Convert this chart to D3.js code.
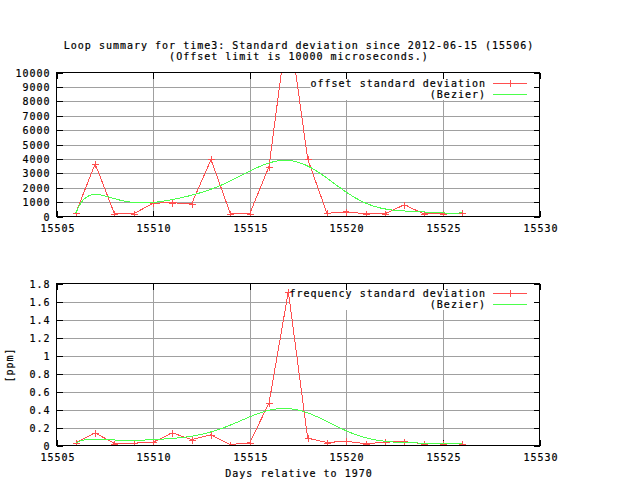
<!DOCTYPE html>
<html>
<head>
<meta charset="utf-8">
<script src="https://cdn.jsdelivr.net/npm/d3@7"></script>
<style>
  html, body { margin: 0; padding: 0; background: #fff; }
  svg text { font-family: "DejaVu Sans Mono", "Liberation Mono", monospace; font-size: 10px; letter-spacing: 1px; fill: #000; stroke: #000; stroke-width: 0.2px; }
</style>
</head>
<body>
<svg id="chart" width="640" height="480"></svg>
<script>
// ---------------- data ----------------
const days = [15506, 15507, 15508, 15509, 15510, 15511, 15512, 15513, 15514, 15515, 15516,
              15517, 15518, 15519, 15520, 15521, 15522, 15523, 15524, 15525, 15526];
const offsetStd = [250, 3660, 190, 190, 930, 950, 900, 3960, 190, 190, 3470,
                   13700, 4000, 220, 330, 190, 190, 810, 190, 190, 250];
const freqStd = [0.03, 0.14, 0.022, 0.026, 0.037, 0.14, 0.066, 0.118, 0.011, 0.03, 0.472,
                 1.71, 0.081, 0.033, 0.048, 0.019, 0.037, 0.044, 0.019, 0.02, 0.019];
const xTicks = [15505, 15510, 15515, 15520, 15525, 15530];
const offsetTicks = [0, 1000, 2000, 3000, 4000, 5000, 6000, 7000, 8000, 9000, 10000];
const freqTicks = [0, 0.2, 0.4, 0.6, 0.8, 1, 1.2, 1.4, 1.6, 1.8];
const titleLines = ["Loop summary for time3: Standard deviation since 2012-06-15 (15506)",
                    "(Offset limit is 10000 microseconds.)"];
const offsetLabel = "offset standard deviation";
const freqLabel = "frequency standard deviation";
const bezierLabel = "(Bezier)";
const xLabel = "Days relative to 1970";
const freqYLabel = "[ppm]";

// ---------------- styles ----------------
const RED = "#ff4f4f", GREEN = "#4cff4c", GRID = "#a0a0a0";

const svg = d3.select("#chart");

// gnuplot-style Bezier smoothing (all points as control points)
function bezier(pts, n) {
  const out = [];
  for (let i = 0; i < n; i++) {
    const t = i / (n - 1);
    let p = pts.map(d => [d[0], d[1]]);
    for (let k = p.length - 1; k > 0; k--) {
      for (let j = 0; j < k; j++) {
        p[j][0] = p[j][0] * (1 - t) + p[j + 1][0] * t;
        p[j][1] = p[j][1] * (1 - t) + p[j + 1][1] * t;
      }
    }
    out.push(p[0]);
  }
  return out;
}

const x = d3.scaleLinear().domain([15505, 15530]).range([56.5, 539.5]);

function panel(opts) {
  const { id, y, yTicks, fmt, values, label, legendBox, legendY } = opts;
  const g = svg.append("g");
  const [yb, yt] = y.range();
  const [xl, xr] = x.range();

  // grid
  g.selectAll(".gy").data(yTicks.slice(1, -1)).join("line")
    .attr("x1", xl).attr("x2", xr)
    .attr("y1", d => Math.round(y(d)) + 0.5).attr("y2", d => Math.round(y(d)) + 0.5)
    .attr("stroke", GRID).attr("shape-rendering", "crispEdges");
  g.selectAll(".gx").data(xTicks.slice(1, -1)).join("line")
    .attr("x1", d => Math.round(x(d)) + 0.5).attr("x2", d => Math.round(x(d)) + 0.5)
    .attr("y1", yt).attr("y2", yb)
    .attr("stroke", GRID).attr("shape-rendering", "crispEdges");

  // legend background (opaque key area)
  g.append("rect")
    .attr("x", legendBox[0]).attr("y", yt)
    .attr("width", xr - legendBox[0]).attr("height", legendBox[1] - yt)
    .attr("fill", "#fff");

  // ticks (inward, mirrored)
  const tl = 6;
  yTicks.forEach(d => {
    const yy = Math.round(y(d)) + 0.5;
    g.append("line").attr("x1", xl).attr("x2", xl + tl).attr("y1", yy).attr("y2", yy)
      .attr("stroke", "#000").attr("shape-rendering", "crispEdges");
    g.append("line").attr("x1", xr - tl).attr("x2", xr).attr("y1", yy).attr("y2", yy)
      .attr("stroke", "#000").attr("shape-rendering", "crispEdges");
    g.append("text").attr("x", xl - 6).attr("y", yy + 3.5)
      .attr("text-anchor", "end").text(fmt(d));
  });
  xTicks.forEach(d => {
    const xx = Math.round(x(d)) + 0.5;
    g.append("line").attr("x1", xx).attr("x2", xx).attr("y1", yb).attr("y2", yb - tl)
      .attr("stroke", "#000").attr("shape-rendering", "crispEdges");
    g.append("line").attr("x1", xx).attr("x2", xx).attr("y1", yt).attr("y2", yt + tl)
      .attr("stroke", "#000").attr("shape-rendering", "crispEdges");
    g.append("text").attr("x", xx + 0.5).attr("y", yb + 15)
      .attr("text-anchor", "middle").text(d);
  });

  // data
  g.append("clipPath").attr("id", "clip" + id).append("rect")
    .attr("x", xl).attr("y", yt).attr("width", xr - xl).attr("height", yb - yt);
  const data = days.map((d, i) => [d, values[i]]);
  const line = d3.line().x(d => x(d[0])).y(d => y(d[1]));
  const dg = g.append("g").attr("clip-path", `url(#clip${id})`);
  dg.append("path").attr("d", line(data)).attr("fill", "none")
    .attr("stroke", RED).attr("stroke-width", 1).attr("shape-rendering", "crispEdges");
  const ms = 3.5;
  data.forEach(d => {
    const px = Math.round(x(d[0])) + 0.5, py = Math.round(y(d[1])) + 0.5;
    dg.append("path").attr("d", `M${px - ms},${py}H${px + ms}M${px},${py - ms}V${py + ms}`)
      .attr("stroke", RED).attr("shape-rendering", "crispEdges");
  });
  dg.append("path").attr("d", line(bezier(data, 100))).attr("fill", "none")
    .attr("stroke", GREEN).attr("stroke-width", 1).attr("shape-rendering", "crispEdges");

  // border
  g.append("rect").attr("x", xl).attr("y", yt).attr("width", xr - xl).attr("height", yb - yt)
    .attr("fill", "none").attr("stroke", "#000").attr("shape-rendering", "crispEdges");

  // legend
  const [ly1, ly2] = legendY;
  g.append("text").attr("x", 486).attr("y", ly1 + 3.5).attr("text-anchor", "end").text(label);
  g.append("line").attr("x1", 493).attr("x2", 527).attr("y1", ly1).attr("y2", ly1)
    .attr("stroke", RED).attr("shape-rendering", "crispEdges");
  g.append("path").attr("d", `M${510.5 - ms},${ly1}H${510.5 + ms}M510.5,${ly1 - ms}V${ly1 + ms}`)
    .attr("stroke", RED).attr("shape-rendering", "crispEdges");
  g.append("text").attr("x", 486).attr("y", ly2 + 3.5).attr("text-anchor", "end").text(bezierLabel);
  g.append("line").attr("x1", 493).attr("x2", 527).attr("y1", ly2).attr("y2", ly2)
    .attr("stroke", GREEN).attr("stroke-width", 1).attr("shape-rendering", "crispEdges");
}

// title
svg.append("text").attr("x", 299).attr("y", 49).attr("text-anchor", "middle").text(titleLines[0]);
svg.append("text").attr("x", 299).attr("y", 59.5).attr("text-anchor", "middle").text(titleLines[1]);

panel({
  id: "top",
  y: d3.scaleLinear().domain([0, 10000]).range([216.5, 72.5]),
  yTicks: offsetTicks,
  fmt: d => String(d),
  values: offsetStd,
  label: offsetLabel,
  legendBox: [310.5, 100],
  legendY: [83.5, 94.5]
});

panel({
  id: "bot",
  y: d3.scaleLinear().domain([0, 1.8]).range([445.5, 283.5]),
  yTicks: freqTicks,
  fmt: d => String(+d.toFixed(1)),
  values: freqStd,
  label: freqLabel,
  legendBox: [289.5, 310],
  legendY: [293.5, 304.5]
});

// axis labels
svg.append("text").attr("x", 299).attr("y", 477).attr("text-anchor", "middle").text(xLabel);
svg.append("text").attr("transform", "translate(13,365) rotate(-90)")
  .attr("text-anchor", "middle").text(freqYLabel);
</script>
</body>
</html>
